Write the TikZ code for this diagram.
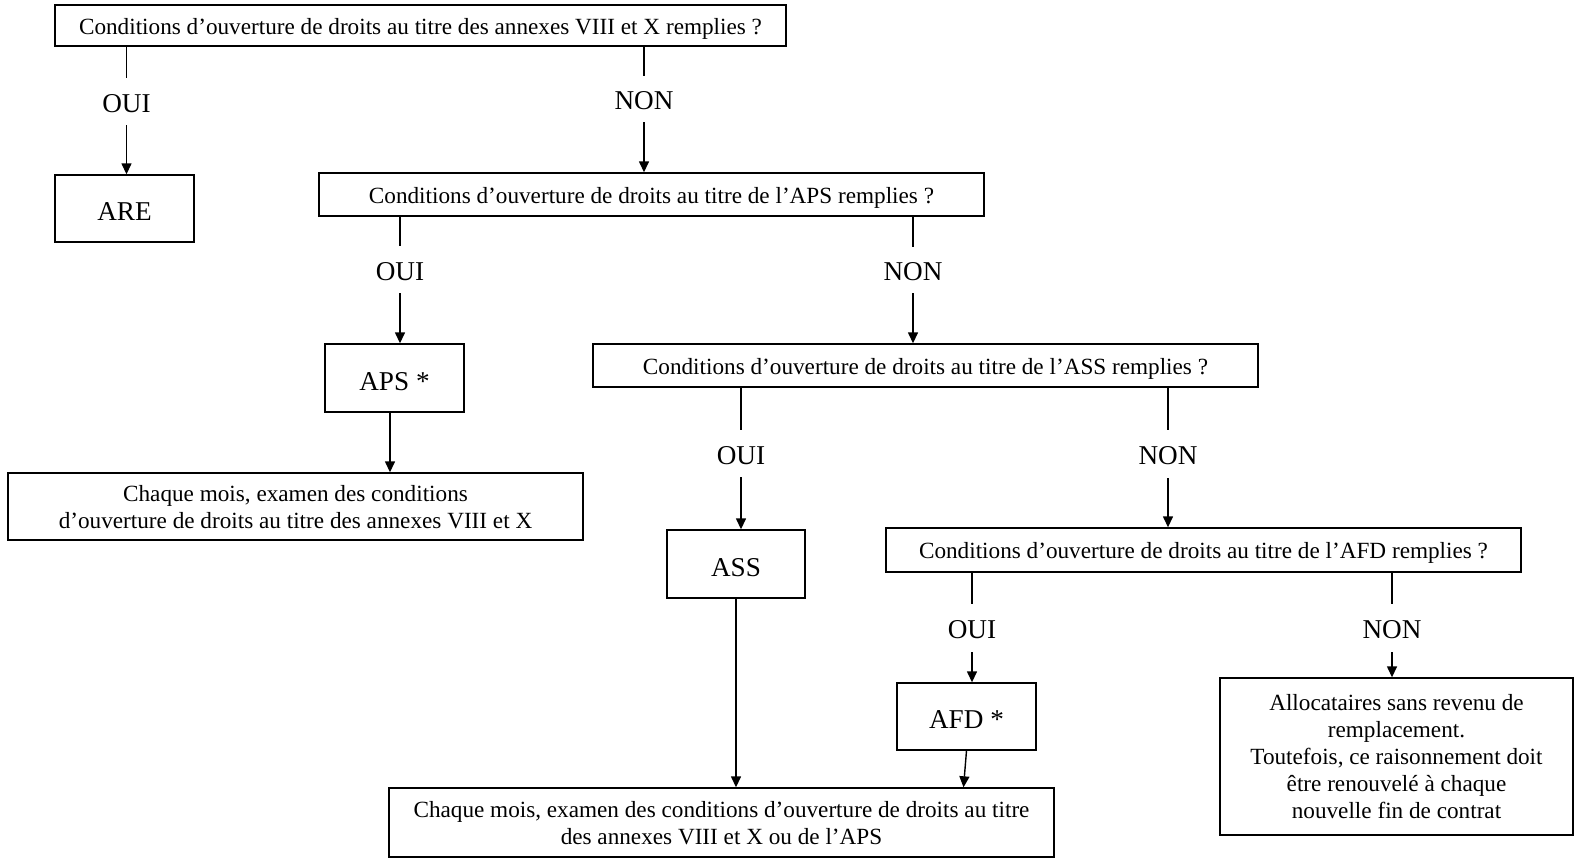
\documentclass[tikz,border=0pt]{standalone}
\usepackage{fontspec}
\setmainfont{Liberation Serif}
\usetikzlibrary{arrows.meta}
\begin{document}
\begin{tikzpicture}[x=0.5pt,y=-0.5pt,
  every node/.style={font=\fontsize{11.6}{13.5}\selectfont},
  box/.style={draw, line width=0.7pt, inner sep=0pt, align=center, text depth=0pt},
  qbox/.style={box, text height=8.5pt},
  sbox/.style={box, font=\fontsize{13.6}{16}\selectfont, text height=12pt},
  lab/.style={inner sep=0pt, minimum width=30pt, font=\fontsize{13.6}{16}\selectfont, text height=10.5pt, text depth=0pt},
  ln/.style={line width=0.7pt},
  arr/.style={line width=0.7pt, -{Triangle[length=5.5pt,width=5pt]}}]
\useasboundingbox (0,0) rectangle (1575,859);
% boxes
\node[qbox, minimum width=365.5pt, minimum height=20.5pt] (top) at (420.5,25.5) {Conditions d’ouverture de droits au titre des annexes VIII et X remplies ?};
\node[sbox, minimum width=69.5pt, minimum height=33.5pt] (are) at (124.5,208.5) {ARE};
\node[qbox, minimum width=332.5pt, minimum height=21.5pt] (apsq) at (651.5,194.5) {Conditions d’ouverture de droits au titre de l’APS remplies ?};
\node[sbox, minimum width=69.5pt, minimum height=34pt] (aps) at (394.5,378) {APS *};
\node[box, minimum width=287.5pt, minimum height=33.5pt] (ch1) at (295.5,506.5) {Chaque mois, examen des conditions\\d’ouverture de droits au titre des annexes VIII et X};
\node[qbox, minimum width=332.5pt, minimum height=21.5pt] (assq) at (925.5,365.5) {Conditions d’ouverture de droits au titre de l’ASS remplies ?};
\node[sbox, minimum width=69pt, minimum height=34pt] (ass) at (736,564) {ASS};
\node[qbox, minimum width=317.5pt, minimum height=22pt] (afdq) at (1203.5,550) {Conditions d’ouverture de droits au titre de l’AFD remplies ?};
\node[sbox, minimum width=69.5pt, minimum height=33.5pt] (afd) at (966.5,716.5) {AFD *};
\node[box, minimum width=332.5pt, minimum height=34.5pt] (ch2) at (721.5,822.5) {Chaque mois, examen des conditions d’ouverture de droits au titre\\des annexes VIII et X ou de l’APS};
\node[draw, line width=0.7pt, inner sep=0pt, align=center, minimum width=176.5pt, minimum height=78.5pt] (alloc) at (1396.5,756.5) {Allocataires sans revenu de\\remplacement.\\Toutefois, ce raisonnement doit\\être renouvelé à chaque\\nouvelle fin de contrat};
% labels
\node[lab, minimum height=23.5pt] (oui1) at (126.5,101.5) {OUI};
\node[lab, minimum height=23pt] (non1) at (644,99) {NON};
\node[lab, minimum height=23.5pt] (oui2) at (400,269.5) {OUI};
\node[lab, minimum height=23pt] (non2) at (913,270) {NON};
\node[lab, minimum height=23.5pt] (oui3) at (741,453.5) {OUI};
\node[lab, minimum height=24pt] (non3) at (1168,454) {NON};
\node[lab, minimum height=24pt] (oui4) at (972,628) {OUI};
\node[lab, minimum height=24pt] (non4) at (1392,628) {NON};
\coordinate (c390) at (390,0);
\coordinate (afdend) at ([xshift=-1.5pt]afd.south);
% connectors
\draw[ln] (top.south -| oui1) -- (oui1.north);
\draw[arr] (oui1.south) -- (are.north -| oui1);
\draw[ln] (top.south -| non1) -- (non1.north);
\draw[arr] (non1.south) -- (apsq.north -| non1);
\draw[ln] (apsq.south -| oui2) -- (oui2.north);
\draw[arr] (oui2.south) -- (aps.north -| oui2);
\draw[ln] (apsq.south -| non2) -- (non2.north);
\draw[arr] (non2.south) -- (assq.north -| non2);
\draw[arr] (aps.south -| c390) -- (ch1.north -| c390);
\draw[ln] (assq.south -| oui3) -- (oui3.north);
\draw[arr] (oui3.south) -- (ass.north -| oui3);
\draw[ln] (assq.south -| non3) -- (non3.north);
\draw[arr] (non3.south) -- (afdq.north -| non3);
\draw[arr] (ass.south) -- (ch2.north -| ass);
\draw[ln] (afdq.south -| oui4) -- (oui4.north);
\draw[arr] (oui4.south) -- (afd.north -| oui4);
\draw[ln] (afdq.south -| non4) -- (non4.north);
\draw[arr] (non4.south) -- (alloc.north -| non4);
\draw[arr] (afd.south) -- (afdend |- ch2.north);
\end{tikzpicture}
\end{document}
